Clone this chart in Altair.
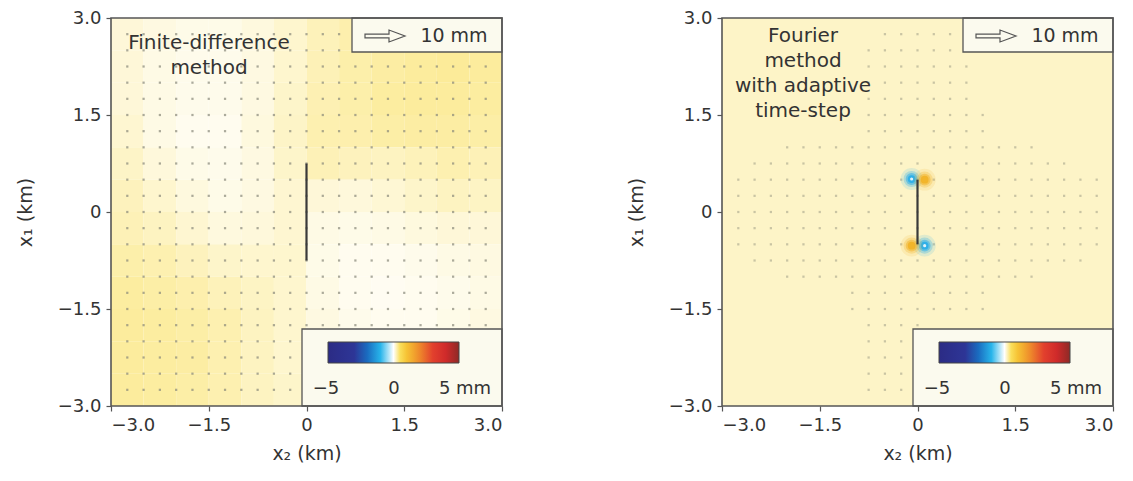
import altair as alt
import pandas as pd

# ---------------- data ----------------
# grid of displacement-vector sample points (km)
GRID = [-2.75, -2.5, -2.25, -2.0, -1.75, -1.5, -1.25, -1.0, -0.75, -0.5, -0.25, 0.0,
        0.25, 0.5, 0.75, 1.0, 1.25, 1.5, 1.75, 2.0, 2.25, 2.5, 2.75]

# coarse cells of the finite-difference background field (mm), 0.5 km cells
CELL_X = [-2.75, -2.25, -1.75, -1.25, -0.75, -0.25, 0.25, 0.75, 1.25, 1.75, 2.25, 2.75]
CELL_Y = [2.75, 2.25, 1.75, 1.25, 0.75, 0.25, -0.25, -0.75, -1.25, -1.75, -2.25, -2.75]
FD_FIELD = [
    [0.12, 0.09, 0.07, 0.07, 0.10, 0.15, 0.21, 0.25, 0.28, 0.30, 0.31, 0.31],
    [0.12, 0.08, 0.06, 0.06, 0.09, 0.15, 0.22, 0.26, 0.28, 0.30, 0.31, 0.30],
    [0.12, 0.08, 0.06, 0.06, 0.09, 0.16, 0.23, 0.26, 0.29, 0.30, 0.30, 0.29],
    [0.14, 0.08, 0.05, 0.05, 0.10, 0.17, 0.24, 0.25, 0.27, 0.28, 0.28, 0.27],
    [0.17, 0.11, 0.07, 0.06, 0.09, 0.16, 0.22, 0.20, 0.19, 0.21, 0.24, 0.22],
    [0.20, 0.15, 0.10, 0.07, 0.09, 0.14, 0.12, 0.11, 0.13, 0.16, 0.19, 0.18],
    [0.22, 0.19, 0.14, 0.10, 0.11, 0.14, 0.08, 0.07, 0.08, 0.10, 0.12, 0.12],
    [0.26, 0.24, 0.20, 0.16, 0.15, 0.15, 0.07, 0.05, 0.05, 0.06, 0.08, 0.09],
    [0.29, 0.27, 0.25, 0.21, 0.18, 0.15, 0.08, 0.05, 0.04, 0.05, 0.06, 0.08],
    [0.30, 0.29, 0.27, 0.24, 0.19, 0.15, 0.09, 0.06, 0.05, 0.05, 0.07, 0.09],
    [0.30, 0.29, 0.28, 0.24, 0.19, 0.15, 0.10, 0.07, 0.06, 0.07, 0.08, 0.10],
    [0.30, 0.29, 0.27, 0.24, 0.19, 0.16, 0.12, 0.09, 0.08, 0.08, 0.10, 0.12],
]

# Fourier panel: nearly uniform background value (mm)
FOURIER_BG = 0.17
# rows of visible vectors in the Fourier panel: (x1, x2 min, x2 max)
FOURIER_ROWS = [
    (2.75, -0.5, 0.5), (2.5, -0.75, 0.75), (2.25, -0.75, 0.75), (2.0, -0.75, 0.75),
    (1.75, -0.75, 0.75), (1.5, -0.75, 1.0), (1.25, -0.75, 1.0), (1.0, -2.0, 1.75),
    (0.75, -2.5, 2.25), (0.5, -2.75, 2.75), (0.25, -2.75, 2.75), (0.0, -2.75, 2.75),
    (-0.25, -2.75, 2.75), (-0.5, -2.75, 2.75), (-0.75, -2.5, 2.5), (-1.0, -2.0, 1.75),
    (-1.25, -1.0, 1.0), (-1.5, -1.0, 1.0), (-1.75, -0.75, 0.0), (-2.0, -0.75, 0.0),
    (-2.25, -0.75, 0.0), (-2.5, -0.75, 0.0), (-2.75, -0.75, 0.0),
]

# fault traces (x2, x1) in km
FD_FAULT_X2 = [0.0, 0.0]
FD_FAULT_X1 = [0.75, -0.75]
FO_FAULT_X2 = [0.0, 0.0]
FO_FAULT_X1 = [0.5, -0.5]

# tip anomalies in the Fourier panel (sign of the anomaly)
BLOB_X2 = [-0.09, 0.11, -0.09, 0.11]
BLOB_X1 = [0.51, 0.50, -0.52, -0.52]
BLOB_SIGN = ['neg', 'pos', 'pos', 'neg']

TICKS = [-3.0, -1.5, 0.0, 1.5, 3.0]
CBAR_LABELS = ['\u22125', '0', '5 mm']
COLOR_STOPS = [-5, -3, -2, -1, 0, 0.6, 1.8, 3, 4, 5]
COLOR_RANGE = ['#2b2b85', '#2d3596', '#1a6cc0', '#27b4ea', '#ffffff',
               '#f9d93a', '#f0962a', '#e2402d', '#cf2a2a', '#8e2a26']

# ---------------- styling ----------------
W, H = 391, 388
FONT = 'DejaVu Sans'
TXT = '#333333'
FRAME = '#555555'
BOXFILL = '#fbfaee'
BLOB_COLORS = {'neg': '#2aaee9', 'pos': '#f2b226'}

color_scale = alt.Scale(domain=COLOR_STOPS, range=COLOR_RANGE, interpolate='rgb')
legend = alt.Legend(orient='none', legendX=217, legendY=324, direction='horizontal',
                    gradientLength=131, gradientThickness=21,
                    labelExpr="''", padding=0, gradientStrokeColor='#444444',
                    gradientStrokeWidth=1)
color_enc = alt.Color('v:Q', scale=color_scale, legend=legend, title=None)

AXLAB = "datum.value == 0 ? '0' : format(datum.value, '.1f')"
xscale = alt.Scale(domain=[-3, 3], nice=False, zero=False)
yscale = alt.Scale(domain=[-3, 3], nice=False, zero=False)


def X(field):
    return alt.X(field, type='quantitative', scale=xscale,
                 axis=alt.Axis(values=TICKS, labelExpr=AXLAB, title='x₂ (km)'))


def Y(field):
    return alt.Y(field, type='quantitative', scale=yscale,
                 axis=alt.Axis(values=TICKS, labelExpr=AXLAB, title='x₁ (km)'))


one = pd.DataFrame({'a': [0]})


def decorations(title_text, title_x, title_y):
    topbox = alt.Chart(one).mark_rect(fill=BOXFILL, stroke=FRAME, strokeWidth=1.3).encode(
        x=alt.value(241), x2=alt.value(W), y=alt.value(0), y2=alt.value(34))
    arrow = alt.Chart(one).mark_point(
        shape='M-1,-0.09 L0.2,-0.09 L0.2,-0.3 L1,0 L0.2,0.3 L0.2,0.09 L-1,0.09 Z',
        filled=False, stroke=FRAME, strokeWidth=1.2, size=1600, opacity=1).encode(
        x=alt.value(274), y=alt.value(18))
    arrow_txt = alt.Chart(one).mark_text(text='10 mm', font=FONT, fontSize=19, color=TXT,
                                         align='center', baseline='middle').encode(
        x=alt.value(343), y=alt.value(18))
    botbox = alt.Chart(one).mark_rect(fill=BOXFILL, stroke=FRAME, strokeWidth=1.3).encode(
        x=alt.value(191), x2=alt.value(W), y=alt.value(311), y2=alt.value(H))
    cbar_txt = [
        alt.Chart(one).mark_text(text=t, font=FONT, fontSize=18, color=TXT,
                                 align='center', baseline='middle').encode(
            x=alt.value(px), y=alt.value(371))
        for t, px in zip(CBAR_LABELS, [215, 283, 354])
    ]
    title = alt.Chart(one).mark_text(text=title_text, lineBreak='\n', lineHeight=25,
                                     font=FONT, fontSize=20, color=TXT,
                                     align='center', baseline='top').encode(
        x=alt.value(title_x), y=alt.value(title_y))
    frame = alt.Chart(one).mark_rect(filled=False, stroke=FRAME, strokeWidth=1.6).encode(
        x=alt.value(0), x2=alt.value(W), y=alt.value(0), y2=alt.value(H))
    return [topbox, arrow, arrow_txt, botbox, *cbar_txt, title, frame]


# ---------------- left panel: finite difference ----------------
rows = []
for j, yc in enumerate(CELL_Y):
    for i, xc in enumerate(CELL_X):
        rows.append({'x0': xc - 0.25, 'x1': xc + 0.25, 'y0': yc - 0.25, 'y1': yc + 0.25,
                     'v': FD_FIELD[j][i]})
fd_heat_df = pd.DataFrame(rows)
fd_heat = alt.Chart(fd_heat_df).mark_rect(strokeWidth=0).encode(
    x=X('x0'), x2='x1', y=Y('y0'), y2='y1', color=color_enc)

fd_dots_df = pd.DataFrame([{'gx': gx, 'gy': gy} for gy in GRID for gx in GRID])
fd_dots = alt.Chart(fd_dots_df).mark_square(size=5, color='#878779', opacity=0.7).encode(
    x=X('gx'), y=Y('gy'))

fd_fault = alt.Chart(pd.DataFrame({'fx': FD_FAULT_X2, 'fy': FD_FAULT_X1})).mark_line(
    color='#3a3a3a', strokeWidth=2.2).encode(x=X('fx'), y=Y('fy'))

left = alt.layer(fd_heat, fd_dots, fd_fault,
                 *decorations('Finite-difference\nmethod', 98, 15)).properties(width=W, height=H)

# ---------------- right panel: Fourier ----------------
fo_bg_df = pd.DataFrame({'x0': [-3.0], 'x1': [3.0], 'y0': [-3.0], 'y1': [3.0], 'v': [FOURIER_BG]})
fo_heat = alt.Chart(fo_bg_df).mark_rect(strokeWidth=0).encode(
    x=X('x0'), x2='x1', y=Y('y0'), y2='y1', color=color_enc)

fo_dots_df = pd.DataFrame([{'gx': gx, 'gy': gy} for (gy, lo, hi) in FOURIER_ROWS
                           for gx in GRID if lo <= gx <= hi])
fo_dots = alt.Chart(fo_dots_df).mark_square(size=5, color='#8a8a78', opacity=0.45).encode(
    x=X('gx'), y=Y('gy'))

blob_df = pd.DataFrame({'bx': BLOB_X2, 'by': BLOB_X1, 'kind': BLOB_SIGN})
blob_layers = []
for kind, col in BLOB_COLORS.items():
    for sz, op in [(480, 0.14), (260, 0.28), (140, 0.5), (60, 0.9)]:
        blob_layers.append(
            alt.Chart(blob_df).transform_filter(f"datum.kind == '{kind}'").mark_circle(
                size=sz, opacity=op, color=col).encode(x=X('bx'), y=Y('by')))
blob_core = alt.Chart(blob_df).transform_filter("datum.kind == 'neg'").mark_circle(
    size=10, color='#eaf7fc', opacity=0.95).encode(x=X('bx'), y=Y('by'))

fo_fault = alt.Chart(pd.DataFrame({'fx': FO_FAULT_X2, 'fy': FO_FAULT_X1})).mark_line(
    color='#3a3a3a', strokeWidth=2.2).encode(x=X('fx'), y=Y('fy'))

right = alt.layer(fo_heat, fo_dots, *blob_layers, blob_core, fo_fault,
                  *decorations('Fourier\nmethod\nwith adaptive\ntime-step', 81, 8)
                  ).properties(width=W, height=H)

chart = alt.hconcat(left, right, spacing=124).resolve_scale(color='independent').properties(
    padding={'left': 8, 'top': 1, 'right': 5, 'bottom': 5},
    background='white'
).configure_view(strokeWidth=0).configure_axis(
    domain=False, tickColor=FRAME, tickWidth=1.2, tickSize=5,
    labelFont=FONT, labelFontSize=18, labelColor=TXT, labelPadding=5,
    titleFont=FONT, titleFontSize=19, titleColor=TXT, titleFontWeight='normal',
    grid=False
).configure_axisX(titlePadding=10).configure_axisY(titlePadding=22)

chart.save('out.html', embed_options={'renderer': 'svg', 'actions': False})
